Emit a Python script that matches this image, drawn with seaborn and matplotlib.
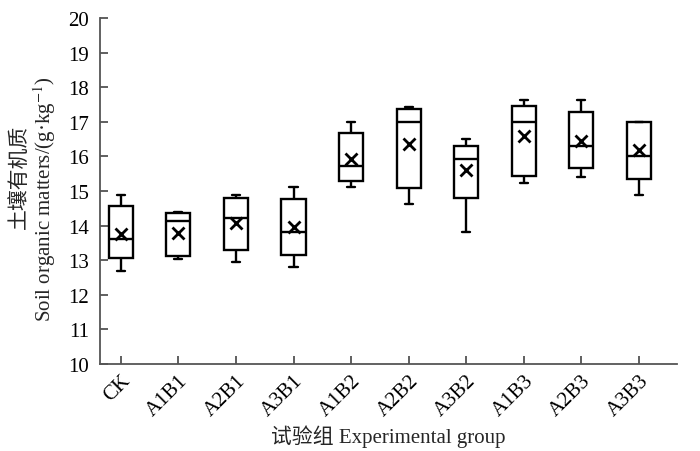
import numpy as np
import pandas as pd
import matplotlib
matplotlib.use('Agg')
import matplotlib.pyplot as plt
import seaborn as sns

# 数据 (从图中读取: 最小值, 下四分位, 中位数, 上四分位, 最大值, 均值)
groups = ['CK', 'A1B1', 'A2B1', 'A3B1', 'A1B2', 'A2B2', 'A3B2', 'A1B3', 'A2B3', 'A3B3']
mins = [12.70, 13.03, 12.94, 12.79, 15.11, 14.62, 13.81, 15.23, 15.40, 14.89]
q1s = [13.05, 13.12, 13.29, 13.15, 15.30, 15.08, 14.79, 15.44, 15.66, 15.35]
medians = [13.61, 14.14, 14.22, 13.81, 15.72, 16.99, 15.92, 16.99, 16.31, 16.00]
q3s = [14.58, 14.35, 14.81, 14.76, 16.68, 17.38, 16.31, 17.46, 17.27, 17.00]
maxs = [14.89, 14.40, 14.89, 15.12, 16.98, 17.42, 16.49, 17.64, 17.64, 17.00]
means = [13.76, 13.79, 14.07, 13.95, 15.92, 16.36, 15.62, 16.60, 16.45, 16.19]

sns.set_theme(style='ticks')
plt.rcParams['font.family'] = ['Liberation Serif', 'Noto Sans CJK SC']
plt.rcParams['mathtext.fontset'] = 'stix'

# 每组 5 个点 -> 箱线图的五数概括
rows = []
for g, a, b, c, d, e in zip(groups, mins, q1s, medians, q3s, maxs):
    for v in (a, b, c, d, e):
        rows.append({'group': g, 'value': v})
df = pd.DataFrame(rows)
df_mean = pd.DataFrame({'group': groups, 'mean': means})

fig, ax = plt.subplots(figsize=(7, 4.52), dpi=100)
fig.subplots_adjust(left=0.143, right=0.967, top=0.958, bottom=0.1925)

sns.boxplot(data=df, x='group', y='value', order=groups, ax=ax, whis=np.inf,
            width=0.42, color='white', linecolor='black', linewidth=1.7,
            capwidths=0.14)
sns.pointplot(data=df_mean, x='group', y='mean', order=groups, ax=ax,
              linestyle='none', marker='x', color='black', errorbar=None,
              markersize=8, markeredgewidth=2)

fs = 15
ax.set_ylim(10, 20)
ax.set_yticks(range(10, 21))
ax.set_xlim(-0.36, 9.66)
ax.set_xticks(range(len(groups)))
ax.set_xticklabels(groups, rotation=45, ha='right', rotation_mode='anchor')
ax.tick_params(direction='in', length=6, width=1.2, colors='#444444', labelcolor='black', labelsize=fs)
ax.tick_params(axis='y', pad=8)
ax.tick_params(axis='x', pad=5)
for s in ['top', 'right']:
    ax.spines[s].set_visible(False)
for s in ['left', 'bottom']:
    ax.spines[s].set_color('#555555')
    ax.spines[s].set_linewidth(1.3)

ax.set_xlabel('')
ax.set_ylabel('')
ax.text(0.5, -0.208, '试验组 Experimental group', transform=ax.transAxes,
        ha='center', va='center', fontsize=fs)
ax.text(-0.097, 0.48, 'Soil organic matters/(g·kg$^{-1}$)', transform=ax.transAxes,
        rotation=90, ha='center', va='center', fontsize=fs)
ax.text(-0.139, 0.543, '土壤有机质', transform=ax.transAxes, rotation=90,
        ha='center', va='center', fontsize=fs)

plt.savefig('out.png', dpi=100)
